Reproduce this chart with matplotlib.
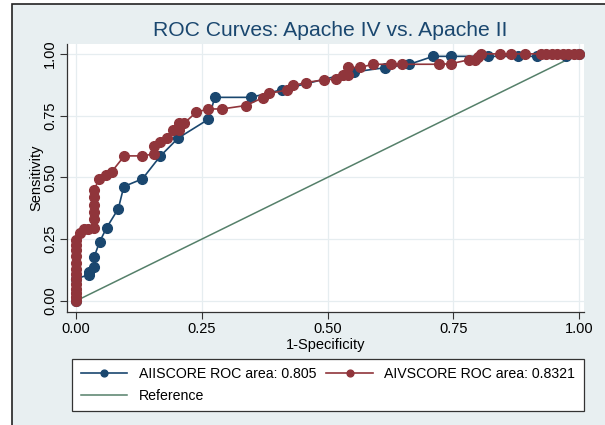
import matplotlib.pyplot as plt
from matplotlib.patches import Rectangle

# ROC points (1-specificity, sensitivity)
aii_fpr = [0, 0, 0.025, 0.025, 0.036, 0.036, 0.047, 0.061, 0.084, 0.095, 0.132,
           0.167, 0.203, 0.263, 0.276, 0.348, 0.409, 0.553, 0.614, 0.663, 0.71,
           0.745, 0.82, 0.879, 0.916, 0.975, 1.0]
aii_tpr = [0, 0.09, 0.105, 0.117, 0.136, 0.178, 0.24, 0.297, 0.373, 0.463, 0.494,
           0.585, 0.659, 0.735, 0.824, 0.824, 0.855, 0.927, 0.944, 0.958, 0.99,
           0.99, 0.99, 0.99, 0.99, 0.99, 1.0]

aiv_fpr = [0, 0, 0, 0, 0, 0, 0, 0, 0, 0, 0, 0, 0,
           0.008, 0.015, 0.024, 0.036, 0.036, 0.036, 0.036, 0.036, 0.036,
           0.046, 0.059, 0.071, 0.096, 0.132, 0.155, 0.155, 0.167, 0.18, 0.192,
           0.205, 0.205, 0.215, 0.239, 0.263, 0.29, 0.338, 0.372, 0.384, 0.42,
           0.432, 0.457, 0.493, 0.517, 0.53, 0.541, 0.541, 0.565, 0.59, 0.626,
           0.649, 0.722, 0.745, 0.781, 0.793, 0.80, 0.806, 0.842, 0.864, 0.893,
           0.924, 0.935, 0.946, 0.957, 0.968, 0.979, 0.99, 1.0]
aiv_tpr = [0, 0.015, 0.03, 0.05, 0.07, 0.09, 0.11, 0.13, 0.155, 0.18, 0.205, 0.225, 0.245,
           0.275, 0.29, 0.29, 0.295, 0.33, 0.36, 0.39, 0.42, 0.45,
           0.494, 0.51, 0.523, 0.587, 0.587, 0.595, 0.628, 0.645, 0.661, 0.692,
           0.692, 0.719, 0.719, 0.764, 0.777, 0.777, 0.791, 0.823, 0.84, 0.854,
           0.872, 0.884, 0.895, 0.898, 0.915, 0.916, 0.945, 0.945, 0.958, 0.958,
           0.958, 0.958, 0.96, 0.976, 0.976, 0.987, 1.0, 1.0, 1.0, 1.0,
           1.0, 1.0, 1.0, 1.0, 1.0, 1.0, 1.0, 1.0]

ref_x = [0, 1]
ref_y = [0, 1]

ticks = [0, 0.25, 0.5, 0.75, 1.0]
tick_labels = ['0.00', '0.25', '0.50', '0.75', '1.00']

plt.rcParams['font.family'] = ['Liberation Sans', 'DejaVu Sans']

W, H = 605, 425
fig = plt.figure(figsize=(W / 100, H / 100), dpi=100, facecolor='white')

# outer graph region with the black frame on left/top
fig.patches.append(Rectangle((12 / W, -0.1), 1.2, 1.1 - 4 / H, transform=fig.transFigure,
                             facecolor='#e8eff1', edgecolor='#222222', linewidth=1.2,
                             zorder=-10))

ax = fig.add_axes([67 / W, 1 - 312 / H, (584 - 67) / W, (312 - 44) / H])
ax.set_facecolor('white')

navy = '#1a476f'
maroon = '#90353b'
green = '#55806a'

l1, = ax.plot(aii_fpr, aii_tpr, color=navy, marker='o', markersize=7, linewidth=1.2,
              label='AIISCORE ROC area: 0.805', zorder=3)
l2, = ax.plot(aiv_fpr, aiv_tpr, color=maroon, marker='o', markersize=7, linewidth=1.2,
              label='AIVSCORE ROC area: 0.8321', zorder=4)
l3, = ax.plot(ref_x, ref_y, color=green, linewidth=1.1, label='Reference', zorder=2)

ax.set_xlim(-0.018, 1.01)
ax.set_ylim(-0.045, 1.04)
ax.set_xticks(ticks)
ax.set_xticklabels(tick_labels, fontsize=10.5)
ax.set_yticks(ticks)
ax.set_yticklabels(tick_labels, fontsize=10.5, rotation=90, va='center')
ax.tick_params(length=5, width=0.8, color='#333333', pad=2)
ax.grid(True, color='#e6edf0', linewidth=0.9)
ax.set_axisbelow(True)
for side in ['top', 'right']:
    ax.spines[side].set_visible(False)
for side in ['left', 'bottom']:
    ax.spines[side].set_color('#333333')
    ax.spines[side].set_linewidth(0.9)

ax.set_xlabel('1-Specificity', fontsize=10.5, labelpad=2)
ax.set_ylabel('Sensitivity', fontsize=10.5, labelpad=0)
fig.text(330 / W, 1 - 30 / H, 'ROC Curves: Apache IV vs. Apache II', fontsize=15.2,
         color=navy, ha='center', va='center')

# legend fills column-wise: AII / Reference in column 1, AIV in column 2
handles = [l1, l3, l2]
leg = fig.legend(handles, [h.get_label() for h in handles], ncol=2, loc='lower left',
                 mode='expand',
                 bbox_to_anchor=(72 / W, 1 - 411 / H, (584 - 72) / W, (411 - 360) / H),
                 fontsize=10.2, frameon=True, fancybox=False, framealpha=1,
                 edgecolor='#333333', handlelength=3.3, borderaxespad=0,
                 labelspacing=0.5, columnspacing=1.0, borderpad=0.6, markerscale=0.7)
leg.get_frame().set_linewidth(0.9)

fig.savefig('out.png', dpi=100)
